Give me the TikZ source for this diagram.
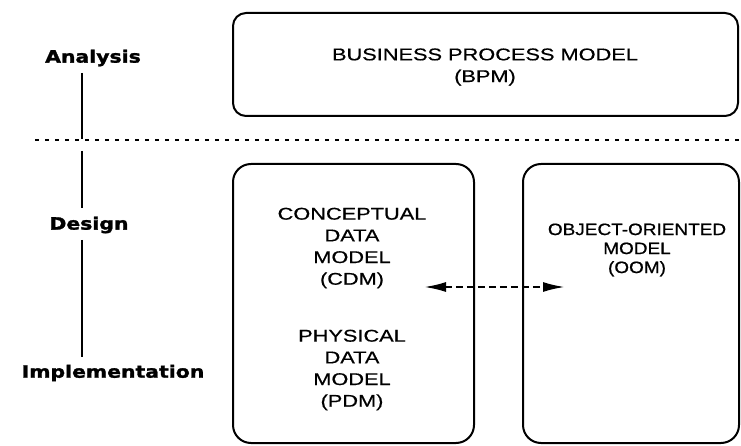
\documentclass[tikz,border=0pt]{standalone}
\usepackage{fontspec}
\usetikzlibrary{arrows.meta}
\newfontfamily\lblfont[FakeStretch=1.2,FakeBold=1.6]{DejaVu Sans Bold}
\newfontfamily\boxfont[FakeStretch=1.28,FakeBold=0.6]{Liberation Sans}
\newfontfamily\oomfont[FakeStretch=1.15,FakeBold=0.8]{Liberation Sans}
\tikzset{
  lbl/.style={font=\lblfont\fontsize{17}{20}\selectfont, inner sep=0pt},
  boxtxt/.style={font=\boxfont\fontsize{17}{21.7}\selectfont, align=center, inner sep=0pt},
  oomtxt/.style={font=\oomfont\fontsize{16.5}{19}\selectfont, align=center, inner sep=0pt},
  model/.style={draw, line width=2pt, rounded corners=#1, inner sep=0pt},
  phase/.style={line width=2.2pt},
  divider/.style={line width=2.2pt, dash pattern=on 4pt off 6pt},
  link/.style={line width=2.2pt, dash pattern=on 7pt off 4pt,
    {Latex[length=22pt,width=10pt]}-{Latex[length=22pt,width=10pt]}}
}
\begin{document}
\begin{tikzpicture}[x=1pt,y=-1pt]
\useasboundingbox (0,0) rectangle (741,446);
% model boxes
\node[model=13pt, minimum width=505pt, minimum height=103pt] (bpm) at (485.5,64.5) {};
\node[model=18pt, minimum width=241pt, minimum height=279pt] (cdm) at (353.5,303.5) {};
\node[model=18pt, minimum width=216pt, minimum height=279pt] (oom) at (631,303.5) {};
% texts
\node[boxtxt] (bpmt) at (485,67) {BUSINESS PROCESS MODEL\\(BPM)};
\node[boxtxt] (cdmt) at (352,248) {CONCEPTUAL\\DATA\\MODEL\\(CDM)};
\node[boxtxt] (pdmt) at (352,370) {PHYSICAL\\DATA\\MODEL\\(PDM)};
\node[oomtxt] (oomt) at (637,250) {OBJECT-ORIENTED\\MODEL\\(OOM)};
% phase labels
\node[lbl] (an) at (93,58) {Analysis};
\node[lbl] (de) at (89,225) {Design};
\node[lbl] (im) at (113,373) {Implementation};
% divider
\coordinate (dl) at (35,140);
\coordinate (dr) at (741,140);
\draw[divider] (dl) -- (dr);
% phase line
\coordinate (a1) at (82,73);
\coordinate (a2) at (82,139);
\coordinate (d1) at (82,151);
\coordinate (d2) at (82,208);
\coordinate (i1) at (82,240);
\coordinate (i2) at (82,357);
\draw[phase] (a1) -- (a2);
\draw[phase] (d1) -- (d2);
\draw[phase] (i1) -- (i2);
% link
\coordinate (la) at (424,287);
\coordinate (ra) at (565,287);
\draw[link] (la) -- (ra);
\end{tikzpicture}
\end{document}
